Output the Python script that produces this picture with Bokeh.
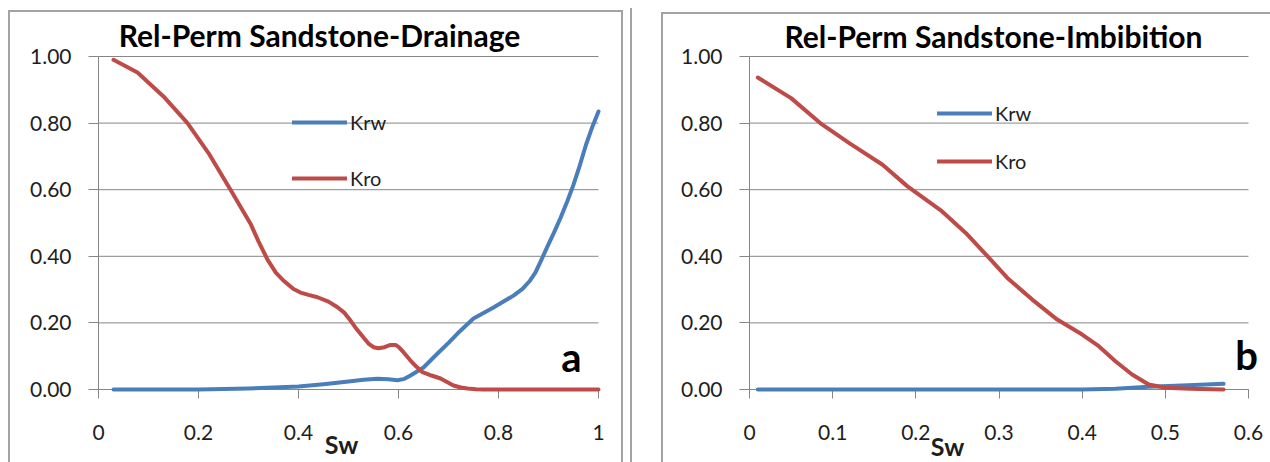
from bokeh.plotting import figure
from bokeh.models import Range1d, FixedTicker, Legend, LegendItem, Label
from bokeh.layouts import row
from bokeh.embed import file_html
from bokeh.resources import INLINE

# ---------------- data ----------------
titles = ["Rel-Perm Sandstone-Drainage", "Rel-Perm Sandstone-Imbibition"]
series_names = ["Krw", "Kro"]
panel_tags = ["a", "b"]
x_title = "Sw"

# Drainage
sw_krw_drain = [0.03, 0.10, 0.20, 0.30, 0.35, 0.40, 0.45, 0.50, 0.53, 0.558, 0.58, 0.598, 0.612,
                0.624, 0.65, 0.678, 0.70, 0.718, 0.75, 0.79, 0.83, 0.848, 0.862, 0.874, 0.886,
                0.898, 0.91, 0.924, 0.938, 0.95, 0.962, 0.975, 0.988, 1.0]
krw_drain = [0.0, 0.0, 0.0, 0.003, 0.006, 0.009, 0.016, 0.024, 0.029, 0.032, 0.031, 0.028, 0.032,
             0.042, 0.066, 0.108, 0.14, 0.168, 0.213, 0.246, 0.282, 0.302, 0.325, 0.352, 0.39,
             0.43, 0.468, 0.515, 0.567, 0.615, 0.67, 0.735, 0.79, 0.835]
sw_kro_drain = [0.03, 0.078, 0.13, 0.178, 0.22, 0.264, 0.304, 0.32, 0.338, 0.355, 0.37, 0.39,
                0.404, 0.42, 0.438, 0.46, 0.478, 0.492, 0.504, 0.517, 0.53, 0.54, 0.55, 0.56,
                0.572, 0.584, 0.594, 0.60, 0.61, 0.624, 0.636, 0.648, 0.666, 0.684, 0.71, 0.725,
                0.738, 0.755, 0.77, 0.85, 1.0]
kro_drain = [0.99, 0.952, 0.88, 0.80, 0.71, 0.60, 0.498, 0.445, 0.39, 0.35, 0.327, 0.302,
             0.291, 0.284, 0.277, 0.264, 0.247, 0.23, 0.207, 0.18, 0.156, 0.138, 0.127, 0.124,
             0.127, 0.134, 0.134, 0.128, 0.112, 0.087, 0.068, 0.052, 0.042, 0.033, 0.012, 0.006,
             0.003, 0.001, 0.0, 0.0, 0.0]

# Imbibition
sw_krw_imb = [0.01, 0.10, 0.20, 0.30, 0.40, 0.44, 0.48, 0.52, 0.57]
krw_imb = [0.0, 0.0, 0.0, 0.0, 0.0, 0.002, 0.008, 0.012, 0.017]
sw_kro_imb = [0.01, 0.05, 0.085, 0.12, 0.16, 0.19, 0.23, 0.26, 0.29, 0.31, 0.34, 0.37, 0.40,
              0.42, 0.44, 0.46, 0.48, 0.50, 0.53, 0.57]
kro_imb = [0.937, 0.875, 0.80, 0.74, 0.675, 0.61, 0.538, 0.47, 0.39, 0.335, 0.27, 0.21, 0.165,
           0.13, 0.085, 0.045, 0.015, 0.005, 0.002, 0.0]

y_ticks = [0, 0.2, 0.4, 0.6, 0.8, 1.0]
y_tick_labels = ["0.00", "0.20", "0.40", "0.60", "0.80", "1.00"]
x_ticks_drain = [0, 0.2, 0.4, 0.6, 0.8, 1.0]
x_tick_labels_drain = ["0", "0.2", "0.4", "0.6", "0.8", "1"]
x_ticks_imb = [0, 0.1, 0.2, 0.3, 0.4, 0.5, 0.6]
x_tick_labels_imb = ["0", "0.1", "0.2", "0.3", "0.4", "0.5", "0.6"]

# ---------------- style / layout ----------------
BLUE = "#4a7ebb"
RED = "#be4b48"
GRID = "#868686"
TXT = "#1e1e1e"
FONT = "Lato"
FRAME = "#a3a3a3"
H = 462
Y0_PX, UNIT_Y = 389, 333  # pixel row of y=0 and pixels per unit of y


def panel_bg(lines):
    parts = []
    for (x, y, w, h) in lines:
        parts.append(f"linear-gradient({FRAME},{FRAME}) {x}px {y}px / {w}px {h}px no-repeat")
    return ", ".join(parts)


def make_panel(width, ox, x_end, xticks, xlabels, title, title_px, tag, tag_px, sw_px,
               krw_x, krw_y, kro_x, kro_y, leg_loc, leg_spacing, bg):
    unit_x = 500.0 if x_end == 1.0 else 499.0 / x_end

    def dx(px):
        return (px - ox) / unit_x

    def dy(py):
        return (Y0_PX - py) / UNIT_Y

    p = figure(width=width, height=H,
               x_range=Range1d(dx(0), dx(width)), y_range=Range1d(dy(H), dy(0)),
               output_backend="svg", toolbar_location=None,
               min_border=0, min_border_left=0, min_border_right=0,
               min_border_top=0, min_border_bottom=0)
    p.border_fill_color = None
    p.background_fill_color = None
    p.outline_line_color = None
    p.styles = {"background": bg}
    p.xgrid.visible = False
    p.ygrid.visible = False

    # horizontal gridlines spanning the plotted x extent
    p.segment(x0=[0] * len(y_ticks), x1=[x_end] * len(y_ticks), y0=y_ticks, y1=y_ticks,
              line_color=GRID, line_width=1)

    xa = p.xaxis[0]
    xa.fixed_location = 0
    xa.bounds = (0, x_end)
    xa.level = "underlay"
    xa.ticker = FixedTicker(ticks=xticks)
    xa.major_label_overrides = dict(zip(xticks, xlabels))
    xa.axis_line_color = GRID
    xa.major_tick_line_color = GRID
    xa.major_tick_in = 0
    xa.major_tick_out = 9
    xa.minor_tick_line_color = None
    xa.major_label_standoff = 26
    xa.major_label_text_font = FONT
    xa.major_label_text_font_size = "21px"
    xa.major_label_text_color = TXT

    ya = p.yaxis[0]
    ya.fixed_location = 0
    ya.bounds = (0, 1)
    ya.level = "underlay"
    ya.ticker = FixedTicker(ticks=y_ticks)
    ya.major_label_overrides = dict(zip(y_ticks, y_tick_labels))
    ya.axis_line_color = GRID
    ya.major_tick_line_color = GRID
    ya.major_tick_in = 0
    ya.major_tick_out = 10
    ya.minor_tick_line_color = None
    ya.major_label_standoff = 17
    ya.major_label_text_font = FONT
    ya.major_label_text_font_size = "21px"
    ya.major_label_text_color = TXT

    r_w = p.line(krw_x, krw_y, line_color=BLUE, line_width=4, line_cap="round", line_join="round")
    r_o = p.line(kro_x, kro_y, line_color=RED, line_width=4, line_cap="round", line_join="round")

    legend = Legend(items=[LegendItem(label=series_names[0], renderers=[r_w]),
                           LegendItem(label=series_names[1], renderers=[r_o])],
                    location=leg_loc, orientation="vertical",
                    glyph_width=55, glyph_height=20, label_height=20, label_standoff=3,
                    spacing=leg_spacing, padding=0, margin=0,
                    border_line_color=None, background_fill_alpha=0,
                    label_text_font=FONT, label_text_font_size="20px",
                    label_text_color=TXT)
    p.add_layout(legend)

    p.add_layout(Label(x=dx(title_px[0]), y=dy(title_px[1]), text=title, text_align="center",
                       text_baseline="middle", text_font=FONT, text_font_style="bold",
                       text_font_size="30px", text_color="black"))
    p.add_layout(Label(x=dx(tag_px[0]), y=dy(tag_px[1]), text=tag, text_align="center",
                       text_baseline="middle", text_font=FONT, text_font_style="bold",
                       text_font_size="40px", text_color="black"))
    p.add_layout(Label(x=dx(sw_px[0]), y=dy(sw_px[1]), text=x_title, text_align="center",
                       text_baseline="middle", text_font=FONT, text_font_style="bold",
                       text_font_size="25px", text_color=TXT))
    return p


bg_left = panel_bg([(8, 10, 2, 460), (8, 10, 615, 2), (621, 10, 2, 460), (630, 8, 2, 460)])
bg_right = panel_bg([(21, 12, 2, 460), (21, 12, 620, 2)])

p1 = make_panel(640, 98, 1.0, x_ticks_drain, x_tick_labels_drain, titles[0], (319, 34),
                panel_tags[0], (571, 356), (341, 443),
                sw_krw_drain, krw_drain, sw_kro_drain, kro_drain, (292, 272), 32, bg_left)
p2 = make_panel(630, 109, 0.6, x_ticks_imb, x_tick_labels_imb, titles[1], (353, 35),
                panel_tags[1], (606, 354), (307, 445),
                sw_krw_imb, krw_imb, sw_kro_imb, kro_imb, (297, 289), 24, bg_right)

layout = row(p1, p2, spacing=0)
open("out.html", "w").write(file_html(layout, INLINE))
